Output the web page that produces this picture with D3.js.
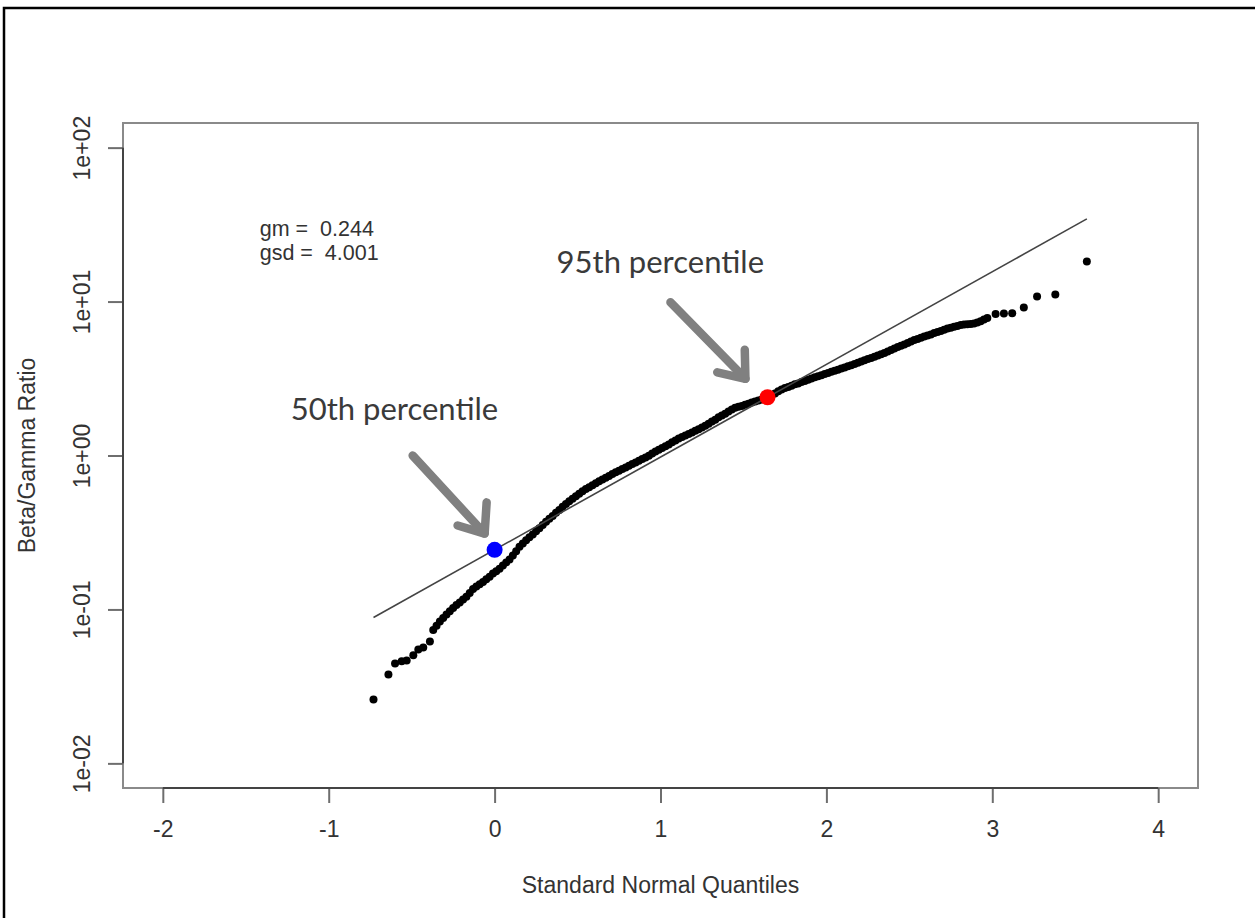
<!DOCTYPE html>
<html>
<head>
<meta charset="utf-8">
<script src="https://cdn.jsdelivr.net/npm/d3@7/dist/d3.min.js"></script>
<style>
  body { margin: 0; background: #fff; }
  svg { display: block; }
</style>
</head>
<body>
<div id="chart"></div>
<script>
// standard normal quantiles (x) and beta/gamma ratios (y)
const quantiles = [
  -0.73, -0.64, -0.60, -0.56, -0.53, -0.49, -0.46, -0.43, -0.39,
  -0.37, -0.35, -0.33, -0.31, -0.29, -0.27, -0.25, -0.23, -0.21, -0.19,
  -0.17, -0.15, -0.13, -0.11, -0.09, -0.07, -0.05, -0.03, -0.01, 0.01,
  0.03, 0.05, 0.07, 0.09, 0.11, 0.13, 0.15, 0.17, 0.19, 0.21,
  0.23, 0.25, 0.27, 0.29, 0.31, 0.33, 0.35, 0.37, 0.39, 0.41,
  0.43, 0.45, 0.47, 0.49, 0.51, 0.53, 0.55, 0.57, 0.59, 0.61,
  0.63, 0.65, 0.67, 0.69, 0.71, 0.73, 0.75, 0.77, 0.79, 0.81,
  0.83, 0.85, 0.87, 0.89, 0.91, 0.93, 0.95, 0.97, 0.99, 1.01,
  1.03, 1.05, 1.07, 1.09, 1.11, 1.13, 1.15, 1.17, 1.19, 1.21,
  1.23, 1.25, 1.27, 1.29, 1.31, 1.33, 1.35, 1.37, 1.39, 1.41,
  1.43, 1.45, 1.47, 1.49, 1.51, 1.53, 1.55, 1.57, 1.59, 1.61,
  1.63, 1.65, 1.67, 1.69, 1.71, 1.73, 1.75, 1.77, 1.79, 1.81,
  1.83, 1.85, 1.87, 1.89, 1.91, 1.93, 1.95, 1.97, 1.99, 2.01,
  2.03, 2.05, 2.07, 2.09, 2.11, 2.13, 2.15, 2.17, 2.19, 2.21,
  2.23, 2.25, 2.27, 2.29, 2.31, 2.33, 2.35, 2.37, 2.39, 2.41,
  2.43, 2.45, 2.47, 2.49, 2.51, 2.53, 2.55, 2.57, 2.59, 2.61,
  2.63, 2.65, 2.67, 2.69, 2.71, 2.73, 2.75, 2.77, 2.79, 2.81,
  2.83, 2.85, 2.87, 2.89, 2.91, 2.93, 2.95, 2.97,
  3.02, 3.07, 3.12, 3.19, 3.27, 3.38, 3.57
];
const ratios = [
  0.0260, 0.0378, 0.0446, 0.0460, 0.0466, 0.0503, 0.0550, 0.0566, 0.0620,
  0.0736, 0.0784, 0.0836, 0.0881, 0.0927, 0.0973, 0.102, 0.107, 0.111, 0.116,
  0.121, 0.128, 0.136, 0.141, 0.146, 0.151, 0.157, 0.163, 0.171, 0.177,
  0.184, 0.193, 0.202, 0.211, 0.224, 0.239, 0.255, 0.268, 0.281, 0.294,
  0.307, 0.322, 0.337, 0.353, 0.371, 0.388, 0.405, 0.424, 0.443, 0.464,
  0.485, 0.505, 0.523, 0.543, 0.565, 0.586, 0.605, 0.623, 0.641, 0.660,
  0.680, 0.699, 0.718, 0.737, 0.757, 0.777, 0.796, 0.816, 0.837, 0.857,
  0.879, 0.902, 0.924, 0.948, 0.972, 0.997, 1.03, 1.06, 1.09, 1.12,
  1.15, 1.18, 1.22, 1.25, 1.29, 1.32, 1.35, 1.38, 1.41, 1.45,
  1.48, 1.52, 1.56, 1.61, 1.66, 1.71, 1.77, 1.82, 1.87, 1.93,
  1.99, 2.04, 2.07, 2.10, 2.14, 2.17, 2.21, 2.24, 2.28, 2.31,
  2.35, 2.40, 2.47, 2.53, 2.61, 2.68, 2.74, 2.79, 2.84, 2.90,
  2.94, 3.00, 3.05, 3.10, 3.16, 3.22, 3.27, 3.32, 3.38, 3.44,
  3.50, 3.55, 3.61, 3.67, 3.73, 3.80, 3.86, 3.93, 4.01, 4.08,
  4.15, 4.23, 4.30, 4.38, 4.46, 4.55, 4.64, 4.74, 4.84, 4.95,
  5.06, 5.16, 5.27, 5.39, 5.50, 5.62, 5.71, 5.81, 5.92, 6.02,
  6.12, 6.24, 6.34, 6.45, 6.57, 6.68, 6.77, 6.85, 6.93, 7.03,
  7.10, 7.12, 7.15, 7.19, 7.30, 7.46, 7.64, 7.81,
  8.30, 8.38, 8.40, 9.14, 10.8, 11.1, 18.2
];

// geometric mean / sd of the fitted lognormal line
const gm = 0.244;
const gsd = 4.001;

// highlighted percentiles
const percentileLabels = ['50th percentile', '95th percentile'];
const percentileQ = [0, 1.645];
const percentileRatio = [0.244, 2.39];

// axes
const xLim = [-2, 4];
const yLim = [0.01, 100];
const xTicks = [-2, -1, 0, 1, 2, 3, 4];
const yTicks = [0.01, 0.1, 1, 10, 100];
const yTickLabels = ['1e-02', '1e-01', '1e+00', '1e+01', '1e+02'];

function createChart(elementId) {

  const width = 1255;
  const height = 918;
  const box = { left: 123, top: 123, right: 1198, bottom: 788 };
  const rFont = "'Liberation Sans', Arial, sans-serif";
  const rSize = '23px';
  const textColor = '#333';

  const svg = d3.select(elementId)
    .append('svg')
    .attr('width', width)
    .attr('height', height);

  // outer frame of the screenshot
  svg.append('rect')
    .attr('x', 4)
    .attr('y', 8)
    .attr('width', width + 20)
    .attr('height', height + 20)
    .attr('fill', 'none')
    .attr('stroke', '#000')
    .attr('stroke-width', 2.5);

  // R style 4% axis extension
  const xPad = (xLim[1] - xLim[0]) * 0.04;
  const xScale = d3.scaleLinear()
    .domain([xLim[0] - xPad, xLim[1] + xPad])
    .range([box.left, box.right]);

  const lo = Math.log10(yLim[0]);
  const hi = Math.log10(yLim[1]);
  const yPad = (hi - lo) * 0.04;
  const yScale = d3.scaleLog()
    .domain([Math.pow(10, lo - yPad), Math.pow(10, hi + yPad)])
    .range([box.bottom, box.top]);

  // plot box
  svg.append('rect')
    .attr('x', box.left)
    .attr('y', box.top)
    .attr('width', box.right - box.left)
    .attr('height', box.bottom - box.top)
    .attr('fill', 'none')
    .attr('stroke', '#8a8a8a')
    .attr('stroke-width', 2);

  // x axis
  const xAxis = svg.append('g')
    .attr('class', 'x-axis')
    .attr('transform', `translate(0, ${box.bottom})`)
    .call(d3.axisBottom(xScale).tickValues(xTicks).tickSize(15).tickFormat(d => String(d)));
  xAxis.select('.domain').remove();
  xAxis.selectAll('line').attr('stroke', '#6e6e6e').attr('stroke-width', 2);
  xAxis.selectAll('text')
    .attr('y', 49)
    .attr('dy', 0)
    .attr('fill', textColor)
    .style('font-family', rFont)
    .style('font-size', rSize);
  svg.append('line')
    .attr('x1', xScale(xTicks[0]))
    .attr('x2', xScale(xTicks[xTicks.length - 1]))
    .attr('y1', box.bottom)
    .attr('y2', box.bottom)
    .attr('stroke', '#444')
    .attr('stroke-width', 2);

  // y axis
  const yAxis = svg.append('g')
    .attr('class', 'y-axis')
    .attr('transform', `translate(${box.left}, 0)`)
    .call(d3.axisLeft(yScale).tickValues(yTicks).tickSize(15).tickFormat((d, i) => yTickLabels[i]));
  yAxis.select('.domain').remove();
  yAxis.selectAll('line').attr('stroke', '#6e6e6e').attr('stroke-width', 2);
  yAxis.selectAll('text')
    .attr('x', 0)
    .attr('y', 0)
    .attr('dy', 0)
    .attr('text-anchor', 'middle')
    .attr('transform', 'translate(-33, 0) rotate(-90)')
    .attr('fill', textColor)
    .style('font-family', rFont)
    .style('font-size', rSize);
  svg.append('line')
    .attr('x1', box.left)
    .attr('x2', box.left)
    .attr('y1', yScale(yTicks[0]))
    .attr('y2', yScale(yTicks[yTicks.length - 1]))
    .attr('stroke', '#444')
    .attr('stroke-width', 2);

  // axis titles
  svg.append('text')
    .attr('x', (box.left + box.right) / 2)
    .attr('y', 893)
    .attr('text-anchor', 'middle')
    .attr('fill', textColor)
    .style('font-family', rFont)
    .style('font-size', rSize)
    .text('Standard Normal Quantiles');

  svg.append('text')
    .attr('transform', `translate(35, ${(box.top + box.bottom) / 2}) rotate(-90)`)
    .attr('text-anchor', 'middle')
    .attr('fill', textColor)
    .style('font-family', rFont)
    .style('font-size', rSize)
    .text('Beta/Gamma Ratio');

  // gm / gsd note
  const notes = [['gm =  ' + gm.toFixed(3), 26.8], ['gsd =  ' + gsd.toFixed(3), 18.5]];
  svg.selectAll('.note')
    .data(notes)
    .enter()
    .append('text')
    .attr('class', 'note')
    .attr('x', xScale(-1.416))
    .attr('y', d => yScale(d[1]))
    .attr('fill', textColor)
    .style('font-family', rFont)
    .style('font-size', '21.5px')
    .style('white-space', 'pre')
    .text(d => d[0]);

  // points
  const points = quantiles.map((q, i) => ({ q: q, r: ratios[i] }));
  svg.append('g')
    .selectAll('circle')
    .data(points)
    .enter()
    .append('circle')
    .attr('cx', d => xScale(d.q))
    .attr('cy', d => yScale(d.r))
    .attr('r', 4)
    .attr('fill', '#000');

  // fitted lognormal line
  const qRange = d3.extent(quantiles);
  const linePts = qRange.map(q => [q, gm * Math.pow(gsd, q)]);
  svg.append('path')
    .attr('d', d3.line().x(d => xScale(d[0])).y(d => yScale(d[1]))(linePts))
    .attr('fill', 'none')
    .attr('stroke', '#444')
    .attr('stroke-width', 1.6);

  // percentile markers
  const markerColors = ['#0000ff', '#ff0000'];
  svg.selectAll('.pct')
    .data(percentileQ)
    .enter()
    .append('circle')
    .attr('class', 'pct')
    .attr('cx', d => xScale(d))
    .attr('cy', (d, i) => yScale(percentileRatio[i]))
    .attr('r', 8)
    .attr('fill', (d, i) => markerColors[i]);

  // annotation arrows (data coordinates: tail, tip, head legs)
  const arrows = [
    { tail: [-0.494, 1.0], tip: [-0.06, 0.311], legA: [-0.048, 0.496], legB: [-0.223, 0.351] },
    { tail: [1.060, 9.90], tip: [1.512, 3.15], legA: [1.508, 4.86], legB: [1.342, 3.47] }
  ];
  const arrowLine = d3.line().x(d => xScale(d[0])).y(d => yScale(d[1]));
  arrows.forEach(a => {
    svg.append('path')
      .attr('d', arrowLine([a.tail, a.tip]))
      .attr('fill', 'none')
      .attr('stroke', '#808080')
      .attr('stroke-width', 8.5)
      .attr('stroke-linecap', 'round');
    svg.append('path')
      .attr('d', arrowLine([a.legA, a.tip, a.legB]))
      .attr('fill', 'none')
      .attr('stroke', '#808080')
      .attr('stroke-width', 8.5)
      .attr('stroke-linecap', 'round')
      .attr('stroke-linejoin', 'round');
  });

  // annotation labels
  const labelAnchors = [[-1.229, 1.69], [0.3735, 15.4]];
  svg.selectAll('.pct-label')
    .data(percentileLabels)
    .enter()
    .append('text')
    .attr('class', 'pct-label')
    .attr('x', (d, i) => xScale(labelAnchors[i][0]))
    .attr('y', (d, i) => yScale(labelAnchors[i][1]))
    .attr('fill', '#3a3a3a')
    .style('font-family', "Lato, 'Open Sans', sans-serif")
    .style('font-size', '31px')
    .text(d => d);
}

createChart('#chart');
</script>
</body>
</html>
